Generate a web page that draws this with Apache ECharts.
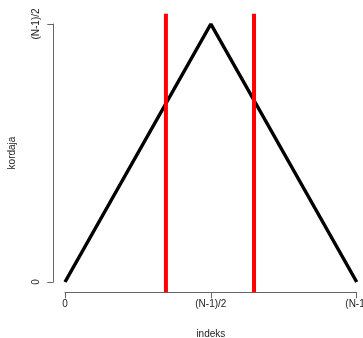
<!DOCTYPE html>
<html>
<head>
<meta charset="utf-8">
<script src="https://cdn.jsdelivr.net/npm/echarts@6/dist/echarts.min.js"></script>
<style>
  html, body { margin: 0; padding: 0; background: #fff; }
  #chart { width: 363px; height: 338px; }
</style>
</head>
<body>
<div id="chart"></div>
<script>
// triangle: index (0 .. N-1, scaled to 0..1) vs kordaja
var indeksVals = [0, 0.5, 1];
var kordajaVals = [0, 1, 0];
// vertical red lines (abline v=)
var cutLines = [0.346, 0.648];
var xTickVals = [0, 0.5, 1];
var xTickLabels = ['0', '(N-1)/2', '(N-1)'];
var yTickVals = [0, 1];
var yTickLabels = ['0', '(N-1)/2'];

var chart = echarts.init(document.getElementById('chart'));

var series = [{
  type: 'line',
  data: indeksVals.map(function (x, i) { return [x, kordajaVals[i]]; }),
  symbol: 'none',
  lineStyle: { color: '#000', width: 3.5 },
  clip: false,
  z: 3
}];
cutLines.forEach(function (v) {
  series.push({
    type: 'line',
    data: [[v, -0.04], [v, 1.04]],
    symbol: 'none',
    lineStyle: { color: '#ff0000', width: 4 },
    clip: false,
    z: 4
  });
});

function tickLabel(vals, labels) {
  return function (v) {
    for (var i = 0; i < vals.length; i++) {
      if (Math.abs(vals[i] - v) < 1e-9) return labels[i];
    }
    return '';
  };
}

chart.setOption({
  animation: false,
  backgroundColor: '#fff',
  textStyle: { fontFamily: 'Liberation Sans, Arial, sans-serif' },
  grid: { left: 65, right: 6.3, top: 24, bottom: 56, containLabel: false, outerBoundsMode: 'none' },
  xAxis: {
    type: 'value',
    min: 0, max: 1, interval: 0.5,
    offset: 10.3,
    name: 'indeks',
    nameLocation: 'middle',
    nameGap: 37,
    nameTextStyle: { fontSize: 10, color: '#222' },
    axisLine: { show: true, onZero: false, lineStyle: { color: '#666', width: 1 } },
    axisTick: { show: true, length: 6, lineStyle: { color: '#666' } },
    axisLabel: { fontSize: 10, color: '#222', margin: 7, formatter: tickLabel(xTickVals, xTickLabels), showMaxLabel: true, showMinLabel: true, hideOverlap: false },
    splitLine: { show: false }
  },
  yAxis: {
    type: 'value',
    min: 0, max: 1, interval: 1,
    offset: 11.7,
    name: 'kordaja',
    nameLocation: 'middle',
    nameGap: 36,
    nameTextStyle: { fontSize: 10, color: '#222' },
    axisLine: { show: true, onZero: false, lineStyle: { color: '#666', width: 1 } },
    axisTick: { show: true, length: 6, lineStyle: { color: '#666' } },
    axisLabel: { fontSize: 10, color: '#222', margin: 12, rotate: 90, formatter: tickLabel(yTickVals, yTickLabels) },
    splitLine: { show: false }
  },
  series: series
});
</script>
</body>
</html>
